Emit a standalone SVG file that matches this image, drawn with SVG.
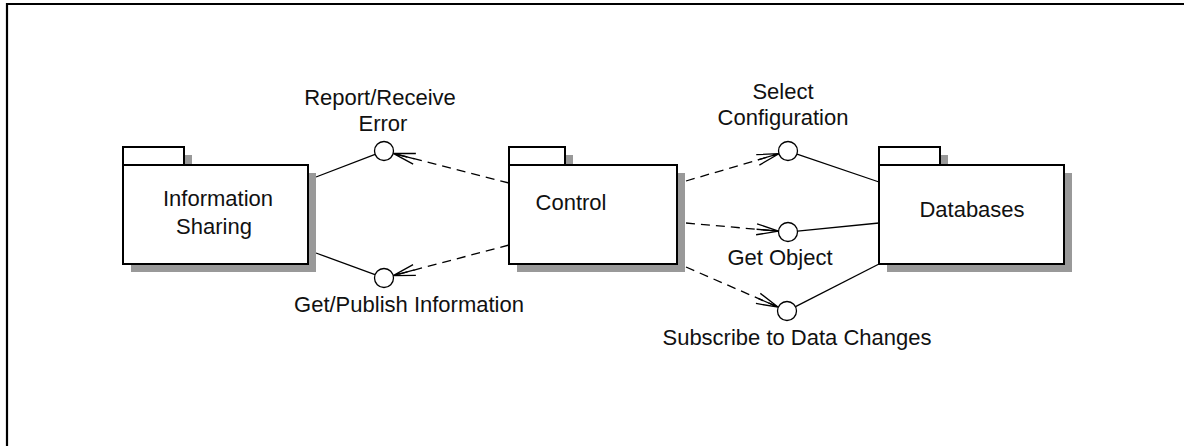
<svg xmlns="http://www.w3.org/2000/svg" width="1184" height="446" viewBox="0 0 1184 446">
<style>
.sh{fill:#999999;stroke:none}
.bx{fill:#ffffff;stroke:#000000;stroke-width:2}
.t{font-family:"Liberation Sans",Arial,sans-serif;font-size:22px;fill:#111111;text-anchor:middle}
.sol{fill:none;stroke:#000000;stroke-width:1.3}
.dash{fill:none;stroke:#000000;stroke-width:1.3;stroke-dasharray:9,6;marker-end:url(#arr)}
.ci{fill:#ffffff;stroke:#000000;stroke-width:1.3}
</style>
<defs>
<marker id="arr" markerUnits="userSpaceOnUse" viewBox="-25 -8 27 16" markerWidth="27" markerHeight="16" refX="0" refY="0" orient="auto">
<path d="M-22,-5.5 L0,0 L-22,5.5 M-22,0 L0,0" fill="none" stroke="#000000" stroke-width="1.3"/>
</marker>
</defs>
<rect width="1184" height="446" fill="#ffffff"/>
<path d="M7,446 V4 H1184" fill="none" stroke="#000000" stroke-width="2.2"/>

<g id="connectors">
<line class="sol" x1="316" y1="177" x2="375.1" y2="154.4"/>
<line class="sol" x1="316" y1="253" x2="375" y2="274.7"/>
<line class="dash" x1="509" y1="183" x2="393.2" y2="153.4"/>
<line class="dash" x1="509" y1="245" x2="393.2" y2="275.6"/>
<line class="dash" x1="686" y1="181" x2="778.9" y2="153.7"/>
<line class="dash" x1="686" y1="223" x2="778.5" y2="231.2"/>
<line class="dash" x1="686" y1="267" x2="778.3" y2="307.2"/>
<line class="sol" x1="797" y1="154.1" x2="879" y2="182"/>
<line class="sol" x1="797.5" y1="231.1" x2="879" y2="223"/>
<line class="sol" x1="795.5" y1="306.7" x2="879" y2="264"/>
</g>

<g id="info-sharing">
<rect class="sh" x="131" y="155" width="61" height="18"/>
<rect class="sh" x="131" y="173" width="185" height="99"/>
<rect class="bx" x="123" y="147" width="61" height="18"/>
<rect class="bx" x="123" y="165" width="185" height="99"/>
<text class="t" x="218" y="206">Information</text>
<text class="t" x="214" y="234">Sharing</text>
</g>

<g id="control">
<rect class="sh" x="517" y="155" width="56" height="18"/>
<rect class="sh" x="517" y="173" width="168" height="99"/>
<rect class="bx" x="509" y="147" width="56" height="18"/>
<rect class="bx" x="509" y="165" width="168" height="99"/>
<text class="t" x="571" y="210">Control</text>
</g>

<g id="databases">
<rect class="sh" x="887" y="155" width="61" height="18"/>
<rect class="sh" x="887" y="173" width="185" height="99"/>
<rect class="bx" x="879" y="147" width="61" height="18"/>
<rect class="bx" x="879" y="165" width="185" height="99"/>
<text class="t" x="972" y="217">Databases</text>
</g>

<g id="if-report-error">
<circle class="ci" cx="384" cy="151" r="9.5"/>
<text class="t" x="380" y="105">Report/Receive</text>
<text class="t" x="383" y="131">Error</text>
</g>

<g id="if-get-publish">
<circle class="ci" cx="384" cy="278" r="9.5"/>
<text class="t" x="409" y="312">Get/Publish Information</text>
</g>

<g id="if-select-config">
<circle class="ci" cx="788" cy="151" r="9.5"/>
<text class="t" x="783" y="99">Select</text>
<text class="t" x="783" y="125">Configuration</text>
</g>

<g id="if-get-object">
<circle class="ci" cx="788" cy="232" r="9.5"/>
<text class="t" x="780" y="265">Get Object</text>
</g>

<g id="if-subscribe">
<circle class="ci" cx="787" cy="311" r="9.5"/>
<text class="t" x="797" y="345">Subscribe to Data Changes</text>
</g>
</svg>
